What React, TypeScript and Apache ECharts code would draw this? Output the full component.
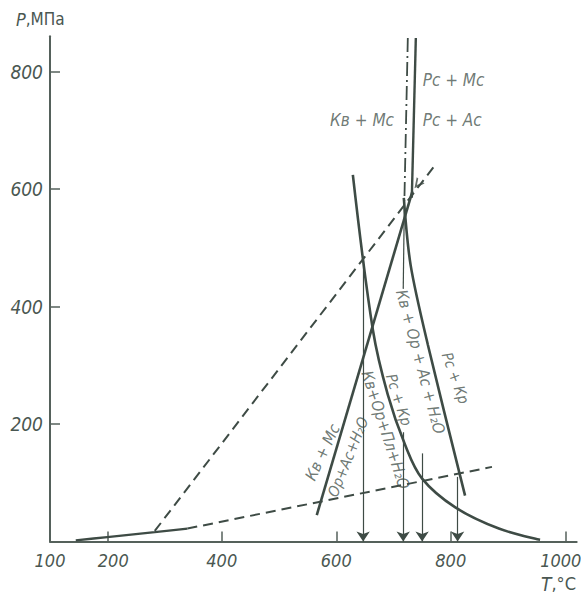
import React, { useEffect, useRef } from "react";
import * as echarts from "echarts";

// Axis ticks / labels
const xTickValues = [200, 400, 600, 800, 1000];
const xLabelValues = [100, 200, 400, 600, 800, 1000];
const yTickValues = [200, 400, 600, 800];

// Curves, [T °C, P МПа]
const lowSolid = [[145, 2], [200, 7.5], [283, 16], [340, 22]];
const dashedSteep = [[283, 18], [776, 645]];
const dashedLow = [[340, 22], [872, 127]];
const kvMcLine = [[566, 45], [733, 596]];
const meltCurve = [[629, 624], [664, 360], [690, 250], [720, 165], [750, 107], [808, 58], [884, 22], [956, 3]];
const rcKrLine = [[718, 585], [730, 470], [760, 335], [825, 78]];
const topSolid = [[739, 857], [732, 585]];
const topDashDot = [[725, 857], [719, 580]];
const thinGuide = [[719, 580], [717, 430]];

// Vertical arrows
const arrowT = [647, 717, 750, 812];
const arrowStartP = [477, 186, 150, 110];

// Arrowhead on the steep dashed line near the invariant point
const dashArrowHead = [[742, 608]];

// Labels
const labelText = [
  "Рс + Мс",
  "Рс + Ас",
  "Кв + Мс",
  "Кв + Ор + Ас + H₂O",
  "Рс + Кр",
  "Рс + Кр",
  "Кв+Ор+Пл+H₂O",
  "Кв + Мс",
  "Ор+Ас+H₂O",
];
const labelPos = [
  [751, 785],
  [751, 717],
  [645, 717],
  [747, 306],
  [808, 278],
  [709, 241],
  [686, 190],
  [576, 152],
  [621, 144],
];
const labelRotate = [0, 0, 0, -75, -70, -72, -72, 65, 68];
const labelAlign = ["left", "left", "center", "center", "center", "center", "center", "center", "center"];
const labelSize = [17, 17, 17, 16, 15, 15, 16, 16, 15];

const INK = "#3e4b45";
const TEXT = "#4a5751";
const FONT = "'DejaVu Sans Condensed', 'Liberation Sans Narrow', 'DejaVu Sans', sans-serif";

export default function App() {
  const ref = useRef<HTMLDivElement>(null);
  useEffect(() => {
    if (!ref.current) return;
    const chart = echarts.init(ref.current, null, { renderer: "svg" });
    const lineSeries = (data: number[][], width: number, type: any, extra: any = {}) => ({
      type: "line",
      data,
      symbol: "none",
      silent: true,
      lineStyle: { color: INK, width, type },
      ...extra,
    });
    const xRich = {
      l: { padding: [0, 0, 0, 12], fontSize: 18, fontStyle: "italic", fontFamily: FONT, color: TEXT },
      r: { padding: [0, 9, 0, 0], fontSize: 18, fontStyle: "italic", fontFamily: FONT, color: TEXT },
    };
    const option: any = {
      animation: false,
      backgroundColor: "#ffffff",
      grid: { left: 50, right: 4.3, top: 36.25, bottom: 54.5, outerBoundsMode: "none", containLabel: false },
      xAxis: {
        type: "value",
        min: 100,
        max: 1020,
        axisLine: { show: true, lineStyle: { color: "#55615b", width: 2 } },
        axisTick: { show: true, inside: true, length: 10, customValues: xTickValues, lineStyle: { color: "#55615b", width: 1.5 } },
        axisLabel: {
          customValues: xLabelValues,
          formatter: (v: number) => (v === 1000 ? "{r|1000}" : v === 200 ? "{l|200}" : String(v)),
          rich: xRich,
          margin: 10,
          color: TEXT,
          fontSize: 18,
          fontStyle: "italic",
          fontFamily: FONT,
        },
        splitLine: { show: false },
      },
      yAxis: {
        type: "value",
        min: 0,
        max: 860,
        axisLine: { show: true, lineStyle: { color: "#55615b", width: 2 } },
        axisTick: { show: true, inside: true, length: 10, customValues: yTickValues, lineStyle: { color: "#55615b", width: 1.5 } },
        axisLabel: {
          customValues: yTickValues,
          formatter: (v: number) => String(v),
          margin: 7,
          color: TEXT,
          fontSize: 19,
          fontStyle: "italic",
          fontFamily: FONT,
        },
        splitLine: { show: false },
      },
      graphic: [
        {
          type: "text",
          left: 16,
          top: 10,
          style: {
            text: "{i|P},МПа",
            fill: TEXT,
            font: `17px ${FONT}`,
            rich: { i: { fontStyle: "italic", fontSize: 18, fontFamily: FONT, fill: TEXT } },
          },
        },
        {
          type: "text",
          left: 541,
          top: 574,
          style: {
            text: "{i|T},°C",
            fill: TEXT,
            font: `18px ${FONT}`,
            rich: { i: { fontStyle: "italic", fontSize: 19, fontFamily: FONT, fill: TEXT } },
          },
        },
      ],
      series: [
        lineSeries(lowSolid, 2.4, "solid", { smooth: 0.3 }),
        lineSeries(dashedSteep, 2, [10, 6]),
        lineSeries(dashedLow, 2, [10, 6]),
        lineSeries(kvMcLine, 2.6, "solid"),
        lineSeries(meltCurve, 2.6, "solid", { smooth: 0.35 }),
        lineSeries(rcKrLine, 2.6, "solid", { smooth: 0.3 }),
        lineSeries(topSolid, 2.4, "solid"),
        lineSeries(topDashDot, 1.8, [14, 4, 2, 4]),
        lineSeries(thinGuide, 1.2, "solid", {
          markLine: {
            silent: true,
            symbol: ["none", "arrow"],
            symbolSize: 10,
            label: { show: false },
            emphasis: { disabled: true },
            lineStyle: { color: INK, width: 1.2, type: "solid" },
            itemStyle: { color: INK },
            data: arrowT.map((t, i) => [
              { coord: [t, arrowStartP[i]] },
              { coord: [t, 0] },
            ]),
          },
        }),
        {
          type: "scatter",
          silent: true,
          data: dashArrowHead,
          symbol: "path://M0,10 L5,0 L10,10 L8,10 L5,4 L2,10 Z",
          symbolSize: [10, 10],
          symbolRotate: 142,
          itemStyle: { color: INK },
        },
        {
          type: "scatter",
          silent: true,
          symbolSize: 0,
          data: labelText.map((txt, i) => ({
            value: labelPos[i],
            label: {
              show: true,
              position: "inside",
              formatter: txt,
              rotate: labelRotate[i],
              align: labelAlign[i],
              verticalAlign: "middle",
              fontSize: labelSize[i],
              fontStyle: "italic",
              fontFamily: FONT,
              color: TEXT,
            },
          })),
        },
      ],
    };
    chart.setOption(option);
    return () => chart.dispose();
  }, []);
  return (
    <div
      ref={ref}
      style={{ position: "absolute", left: 0, top: 0, width: 581, height: 596 }}
    />
  );
}
